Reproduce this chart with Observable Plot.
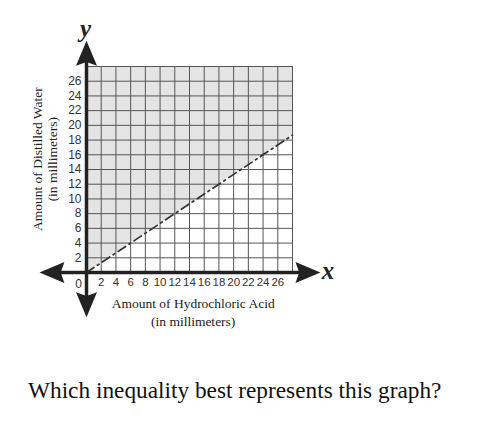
<!DOCTYPE html>
<html>
<head>
<meta charset="utf-8">
<script src="https://cdn.jsdelivr.net/npm/d3@7"></script>
<script src="https://cdn.jsdelivr.net/npm/@observablehq/plot@0.6"></script>
<style>
  html, body { margin: 0; padding: 0; background: #fff; }
  #wrap { position: relative; width: 491px; height: 429px; overflow: hidden; }
  #question { position: absolute; left: 28px; top: 377px; font-family: "Liberation Serif", "Times New Roman", serif; font-size: 23.3px; color: #111; white-space: nowrap; }
</style>
</head>
<body>
<div id="wrap"><div id="chart"></div><div id="question"></div></div>
<script>
// ---- data ----
const gridTicks = [0, 2, 4, 6, 8, 10, 12, 14, 16, 18, 20, 22, 24, 26, 28];
const xTickLabels = [2, 4, 6, 8, 10, 12, 14, 16, 18, 20, 22, 24, 26];
const yTickLabels = [2, 4, 6, 8, 10, 12, 14, 16, 18, 20, 22, 24, 26];
const boundaryX = [0, 28];
const boundaryY = [0, 18.67];
const axisXExtent = [-4.7, 30.1];
const axisYExtent = [-4.4, 29.8];
const xTitle = ["Amount of Hydrochloric Acid", "(in millimeters)"];
const yTitle = ["Amount of Distilled Water", "(in millimeters)"];
const axisNames = ["x", "y"];
const question = "Which inequality best represents this graph?";

const boundary = boundaryX.map((x, i) => ({x, y: boundaryY[i]}));
const arrows = [
  {x: 0, y: axisYExtent[1], rot: 0},
  {x: 0, y: axisYExtent[0], rot: 180},
  {x: axisXExtent[1], y: 0, rot: 90},
  {x: axisXExtent[0], y: 0, rot: 270}
];
const arrowSymbol = {
  draw(ctx, size) {
    const r = Math.sqrt(size / Math.PI);
    ctx.moveTo(0, -r);
    ctx.lineTo(0.84 * r, r);
    ctx.lineTo(0, 0.7 * r);
    ctx.lineTo(-0.84 * r, r);
    ctx.closePath();
  }
};
const serif = "'Liberation Serif', 'Times New Roman', serif";

const chart = Plot.plot({
  width: 491,
  height: 360,
  marginLeft: 86,
  marginRight: 199,
  marginTop: 66,
  marginBottom: 88,
  x: {domain: [0, 28]},
  y: {domain: [0, 28]},
  style: {fontFamily: "'Liberation Sans', Arial, sans-serif", fontSize: "12px", color: "#222", background: "#fff"},
  marks: [
    Plot.areaY(boundary, {x: "x", y1: "y", y2: 28, fill: "#e4e4e4"}),
    Plot.ruleX(gridTicks, {stroke: "#555", strokeWidth: 1}),
    Plot.ruleY(gridTicks, {stroke: "#555", strokeWidth: 1}),
    Plot.line(boundary, {x: "x", y: "y", stroke: "#333", strokeWidth: 1.7, strokeDasharray: "9,4,2,4"}),
    Plot.ruleX([0], {y1: axisYExtent[0], y2: axisYExtent[1], stroke: "#222", strokeWidth: 3.5}),
    Plot.ruleY([0], {x1: axisXExtent[0], x2: axisXExtent[1], stroke: "#222", strokeWidth: 3.5}),
    Plot.dot(arrows, {x: "x", y: "y", rotate: "rot", symbol: arrowSymbol, r: 12.5, fill: "#222", stroke: "none"}),
    Plot.axisX(xTickLabels, {tickSize: 0, tickPadding: 5, label: null, fill: "#333", fontSize: 11.5}),
    Plot.axisY(yTickLabels, {tickSize: 0, tickPadding: 5, label: null, fill: "#333", fontSize: 12}),
    Plot.text(["0"], {x: 0, y: 0, dx: -8, dy: 12, fill: "#333", fontSize: 12}),
    Plot.text([xTitle[0]], {x: 14.5, y: 0, dy: 31, fontFamily: serif, fontSize: 13.5, fill: "#222"}),
    Plot.text([xTitle[1]], {x: 14.5, y: 0, dy: 49, fontFamily: serif, fontSize: 13.5, fill: "#222"}),
    Plot.text([yTitle[0]], {x: 0, y: 15.4, dx: -49, rotate: -90, fontFamily: serif, fontSize: 13.5, fill: "#222"}),
    Plot.text([yTitle[1]], {x: 0, y: 15.4, dx: -34, rotate: -90, fontFamily: serif, fontSize: 13.5, fill: "#222"}),
    Plot.text([axisNames[1]], {x: 0, y: axisYExtent[1], dx: -1, dy: -24, fontFamily: serif, fontSize: 25, fontWeight: "bold", fontStyle: "italic", fill: "#222"}),
    Plot.text([axisNames[0]], {x: axisXExtent[1], y: 0, dx: 20, dy: -2, fontFamily: serif, fontSize: 25, fontWeight: "bold", fontStyle: "italic", fill: "#222"})
  ]
});
document.getElementById("chart").appendChild(chart);
document.getElementById("question").textContent = question;
</script>
</body>
</html>
